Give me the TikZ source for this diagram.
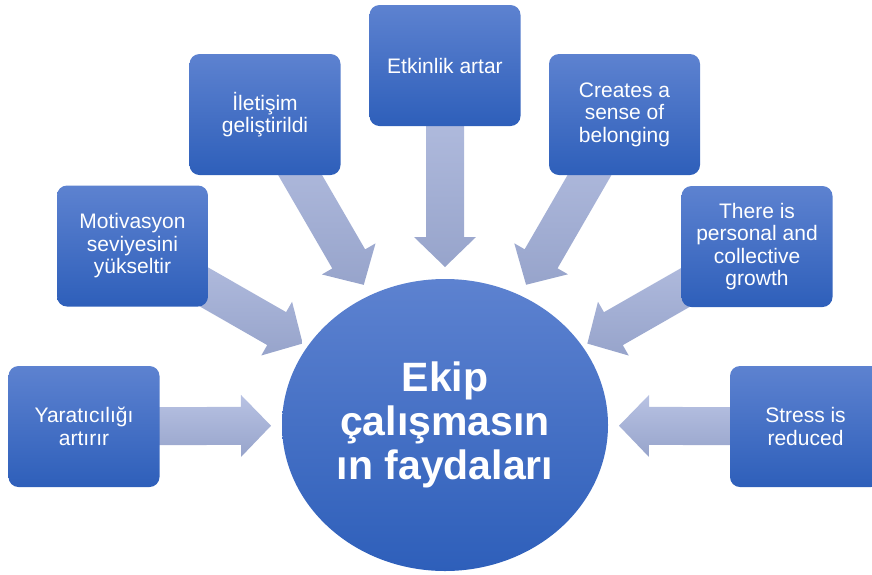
\documentclass[tikz,border=0pt]{standalone}
\usepackage{fontspec}
\setmainfont{Liberation Sans}
\usetikzlibrary{calc}
\usetikzlibrary{positioning,shapes,shapes.geometric}
\definecolor{boxtop}{HTML}{5D82D0}
\definecolor{boxbottom}{HTML}{2E5FBA}
\definecolor{arrowtop}{HTML}{B8C2E3}
\definecolor{arrowbottom}{HTML}{97A4CB}
\tikzstyle{benefit} = [rectangle, rounded corners=10pt, minimum width=151pt, minimum height=121pt, inner sep=0pt, align=center, text=white, font=\fontsize{21}{22.5}\selectfont, top color=boxtop, bottom color=boxbottom]
\tikzstyle{hubstyle} = [ellipse, minimum width=326pt, minimum height=292pt, inner sep=0pt, align=center, text=white, font=\fontsize{41}{44}\selectfont\bfseries, top color=boxtop, bottom color=boxbottom]
\tikzstyle{arrowfill} = [top color=arrowtop, bottom color=arrowbottom]
\pgfdeclarelayer{background}
\pgfsetlayers{background,main}
\newcommand{\blockarrow}[2]% #1 = box, #2 = tip
{\coordinate (#2-b) at ($(#2)!30pt!(#1.center)$);
	\shade [arrowfill] ($(#1.center)!19pt!90:(#2)$) -- ($(#2-b)!19pt!90:(#2)$) -- ($(#2-b)!31pt!90:(#2)$) -- (#2)
	-- ($(#2-b)!31pt!-90:(#2)$) -- ($(#2-b)!19pt!-90:(#2)$) -- ($(#1.center)!19pt!-90:(#2)$) -- cycle;}

\begin{document}
\begin{tikzpicture}[x=1pt,y=-1pt]
		\useasboundingbox (0,0) rectangle (872,574);
		\clip (0,0) rectangle (872,574);
		
		\node (hub) [hubstyle] at (445,425) {Ekip\\çalışmasın\\ın faydaları};
		\node (yaraticilik) [benefit] at (84,426.5) {Yaratıcılığı\\artırır};
		\node (motivasyon) [benefit] at (132.5,246) {Motivasyon\\seviyesini\\yükseltir};
		\node (iletisim) [benefit] at (265,114.5) {İletişim\\geliştirildi};
		\node (etkinlik) [benefit] at (445,65.5) {Etkinlik artar};
		\node (belonging) [benefit] at (624.5,114.5) {Creates a\\sense of\\belonging};
		\node (growth) [benefit] at (757,246.5) {There is\\personal and\\collective\\growth};
		\node (stress) [benefit] at (805.5,426.5) {Stress is\\reduced};
		
		\coordinate (tip1) at ($(hub.center)!174pt!(yaraticilik.center)$);
		\coordinate (tip2) at ($(hub.center)!164pt!(motivasyon.center)$);
		\coordinate (tip3) at ($(hub.center)!162pt!(iletisim.center)$);
		\coordinate (tip4) at ($(hub.center)!158pt!(etkinlik.center)$);
		\coordinate (tip5) at ($(hub.center)!162pt!(belonging.center)$);
		\coordinate (tip6) at ($(hub.center)!164pt!(growth.center)$);
		\coordinate (tip7) at ($(hub.center)!174pt!(stress.center)$);
		
		\begin{pgfonlayer}{background}
			\blockarrow{yaraticilik}{tip1}
			\blockarrow{motivasyon}{tip2}
			\blockarrow{iletisim}{tip3}
			\blockarrow{etkinlik}{tip4}
			\blockarrow{belonging}{tip5}
			\blockarrow{growth}{tip6}
			\blockarrow{stress}{tip7}
		\end{pgfonlayer}
		
	\end{tikzpicture}
\end{document}
